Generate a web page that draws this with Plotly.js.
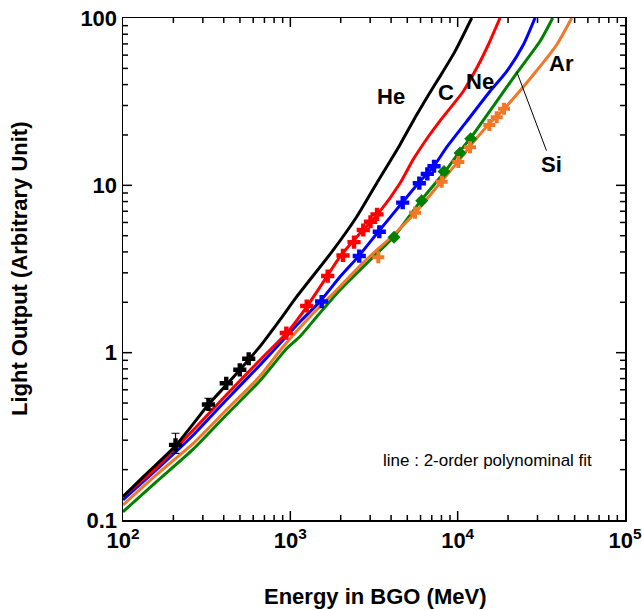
<!DOCTYPE html>
<html>
<head>
<meta charset="utf-8">
<script src="https://cdn.plot.ly/plotly-3.0.1.min.js"></script>
<style>html,body{margin:0;padding:0;background:#fff;}#chart{width:642px;height:610px;}</style>
</head>
<body>
<div id="chart"></div>
<script>
// ---- fitted curves ----
const heCurveX = [100, 132, 208, 326, 414, 498, 659, 867, 1092, 1806, 2493, 3282, 4523, 5691, 6995, 7845, 9638, 12133];
const heCurveY = [0.138, 0.181, 0.281, 0.493, 0.64, 0.788, 1.09, 1.57, 2.16, 4.11, 6.49, 10.3, 17.5, 26.4, 37.3, 44.8, 63.2, 100];

const cCurveX = [100, 158, 263, 414, 659, 951, 1253, 1650, 1981, 2609, 3355, 4523, 5431, 6834, 7845, 10805, 12996, 15244, 17910];
const cCurveY = [0.138, 0.205, 0.345, 0.558, 0.904, 1.31, 1.88, 2.84, 3.75, 5.17, 6.80, 10.3, 14.3, 20.2, 24.3, 36.5, 50.2, 69.2, 100];

const neCurveX = [100, 158, 263, 414, 659, 1142, 1504, 1981, 2548, 3355, 4630, 5817, 7151, 8602, 11324, 15606, 19640, 24690, 28990];
const neCurveY = [0.132, 0.199, 0.322, 0.521, 0.844, 1.53, 2.02, 2.84, 3.75, 5.28, 7.81, 10.3, 12.9, 16.9, 24.1, 36.5, 48.0, 69.2, 100];

const siCurveX = [100, 158, 263, 414, 659, 951, 1142, 1438, 1981, 2861, 4124, 6095, 8403, 10325, 12133, 17117, 22540, 31060, 36980];
const siCurveY = [0.112, 0.169, 0.265, 0.424, 0.680, 1.06, 1.25, 1.64, 2.37, 3.42, 4.89, 8.21, 12.1, 16.0, 19.6, 31.8, 46.9, 72.6, 100];

const arCurveX = [100, 158, 263, 414, 659, 888, 1311, 1893, 2729, 3355, 3941, 5560, 8029, 10087, 11850, 15244, 18740, 28320, 39080, 48040];
const arCurveY = [0.123, 0.186, 0.287, 0.454, 0.725, 1.06, 1.64, 2.37, 3.45, 4.18, 4.83, 6.83, 10.6, 13.9, 17.1, 23.0, 28.3, 45.8, 69.2, 100];

// ---- measured points ----
const heMarkX = [206, 324, 414, 499, 564];
const heMarkY = [0.281, 0.49, 0.656, 0.79, 0.92];
const heErrPlus = [0.049, 0.044, 0, 0, 0];
const heErrMinus = [0.031, 0.03, 0, 0, 0];

const cMarkX = [946, 1253, 1672, 2064, 2402, 2729, 3013, 3296];
const cMarkY = [1.31, 1.90, 2.87, 3.81, 4.58, 5.41, 6.06, 6.71];

const neMarkX = [1539, 2582, 3402, 4693, 5899, 6587, 7222];
const neMarkY = [2.02, 3.78, 5.28, 7.88, 10.3, 11.7, 13.0];

const siMarkX = [4165, 6095, 8289, 10325, 11966];
const siMarkY = [4.89, 8.09, 12.1, 15.6, 19.0];

const arMarkX = [3355, 5560, 8029, 10087, 11850, 15457, 17117, 18920];
const arMarkY = [3.72, 6.86, 10.5, 13.8, 16.9, 22.9, 25.5, 28.7];

// ---- labels ----
const seriesNames = ['He', 'C', 'Ne', 'Si', 'Ar'];
const xTickVals = [100, 1000, 10000, 100000];
const xTickText = ['10<sup>2</sup>', '10<sup>3</sup>', '10<sup>4</sup>', '10<sup>5</sup>'];
const yTickVals = [0.1, 1, 10, 100];
const yTickText = ['0.1', '1', '10', '100'];
const xTitle = 'Energy in BGO (MeV)';
const yTitle = 'Light Output (Arbitrary Unit)';
const noteText = 'line : 2-order polynominal fit';

const colors = {He: 'black', C: '#FF0000', Ne: '#0000FF', Si: '#008000', Ar: '#F07828'};
const FONT = 'Arial, "Liberation Sans", sans-serif';
const X_RANGE = [2, 5];
const Y_RANGE = [-1, 2];
const PLOT_PX = 502;          // plot-area size in px (both directions)
const MAJOR_LEN = 9, MINOR_LEN = 5;

// minor tick positions: digits 2..9 of each decade between the major ticks
function minorVals(majors) {
  const out = [];
  for (let i = 0; i < majors.length - 1; i++) for (let k = 2; k <= 9; k++) out.push(k * majors[i]);
  return out;
}
const bold = arr => arr.map(t => '<b>' + t + '</b>');

function curve(x, y, name) {
  return {x: x, y: y, mode: 'lines', name: name, line: {color: colors[name], width: 3, shape: 'spline', smoothing: 0.6}, hoverinfo: 'skip'};
}
function marks(x, y, name, symbol, size, extra) {
  const t = {x: x, y: y, mode: 'markers', name: name, marker: {color: colors[name], symbol: symbol, size: size, line: {width: 0}}};
  return Object.assign(t, extra || {});
}

const data = [
  curve(siCurveX, siCurveY, 'Si'),
  curve(arCurveX, arCurveY, 'Ar'),
  curve(neCurveX, neCurveY, 'Ne'),
  curve(cCurveX, cCurveY, 'C'),
  curve(heCurveX, heCurveY, 'He'),
  marks(heMarkX, heMarkY, 'He', 'cross', 11, {error_y: {type: 'data', symmetric: false, array: heErrPlus, arrayminus: heErrMinus, color: 'black', thickness: 1.2, width: 4}}),
  marks(cMarkX, cMarkY, 'C', 'cross', 11),
  marks(neMarkX, neMarkY, 'Ne', 'cross', 11),
  marks(siMarkX, siMarkY, 'Si', 'diamond', 10),
  marks(arMarkX, arMarkY, 'Ar', 'cross', 10)
];

function axis(range, vals, text) {
  return {
    type: 'log', range: range, showgrid: false, zeroline: false, showline: true, linecolor: 'black', linewidth: 1.5,
    mirror: true, ticks: 'inside', ticklen: MAJOR_LEN, tickwidth: 1.6, tickcolor: 'black',
    tickmode: 'array', tickvals: vals, ticktext: bold(text),
    tickfont: {family: FONT, size: 22, color: 'black'}
  };
}

// inward tick marks on all four sides, placed on the library's own log scales
function tickShapes() {
  const shapes = [];
  const line = {color: 'black', width: 1.5};
  const add = (vals, len, isX) => {
    const f = len / PLOT_PX;
    vals.forEach(v => {
      if (isX) {
        shapes.push({type: 'line', layer: 'above', xref: 'x', yref: 'paper', x0: v, x1: v, y0: 0, y1: f, line: line});
        shapes.push({type: 'line', layer: 'above', xref: 'x', yref: 'paper', x0: v, x1: v, y0: 1, y1: 1 - f, line: line});
      } else {
        shapes.push({type: 'line', layer: 'above', xref: 'paper', yref: 'y', x0: 0, x1: f, y0: v, y1: v, line: line});
        shapes.push({type: 'line', layer: 'above', xref: 'paper', yref: 'y', x0: 1, x1: 1 - f, y0: v, y1: v, line: line});
      }
    });
  };
  add(xTickVals.slice(1, -1), MAJOR_LEN, true);
  add(minorVals(xTickVals), MINOR_LEN, true);
  add(yTickVals.slice(1, -1), MAJOR_LEN, false);
  add(minorVals(yTickVals), MINOR_LEN, false);
  return shapes;
}

function lbl(text, px, py, size, isBold) {
  return {xref: 'paper', yref: 'paper', x: (px - 123) / PLOT_PX, y: (520 - py) / PLOT_PX, xanchor: 'center', yanchor: 'middle',
    text: isBold ? '<b>' + text + '</b>' : text, showarrow: false, font: {family: FONT, size: size, color: 'black'}};
}

const layout = {
  width: 642, height: 610,
  margin: {l: 123, r: 17, t: 18, b: 90},
  paper_bgcolor: 'white', plot_bgcolor: 'white',
  showlegend: false,
  xaxis: axis(X_RANGE, xTickVals, xTickText),
  yaxis: axis(Y_RANGE, yTickVals, yTickText),
  shapes: tickShapes(),
  annotations: [
    lbl(seriesNames[0], 391, 97, 22, true),
    lbl(seriesNames[1], 445.5, 93, 22, true),
    lbl(seriesNames[2], 480, 81, 22, true),
    lbl(seriesNames[4], 561.7, 63.5, 22, true),
    {xref: 'x', yref: 'y', x: Math.log10(22540), y: Math.log10(47.8), ax: 35, ay: 93,
      text: '<b>' + seriesNames[3] + '</b>', showarrow: true, arrowhead: 0, arrowwidth: 1, arrowcolor: 'black',
      font: {family: FONT, size: 22, color: 'black'}},
    lbl(noteText, 487.5, 460, 17, false),
    lbl(xTitle, 374.5, 596, 22, true),
    Object.assign(lbl(yTitle, 19, 269, 22, true), {textangle: -90})
  ]
};

Plotly.newPlot('chart', data, layout, {staticPlot: true});
</script>
</body>
</html>
